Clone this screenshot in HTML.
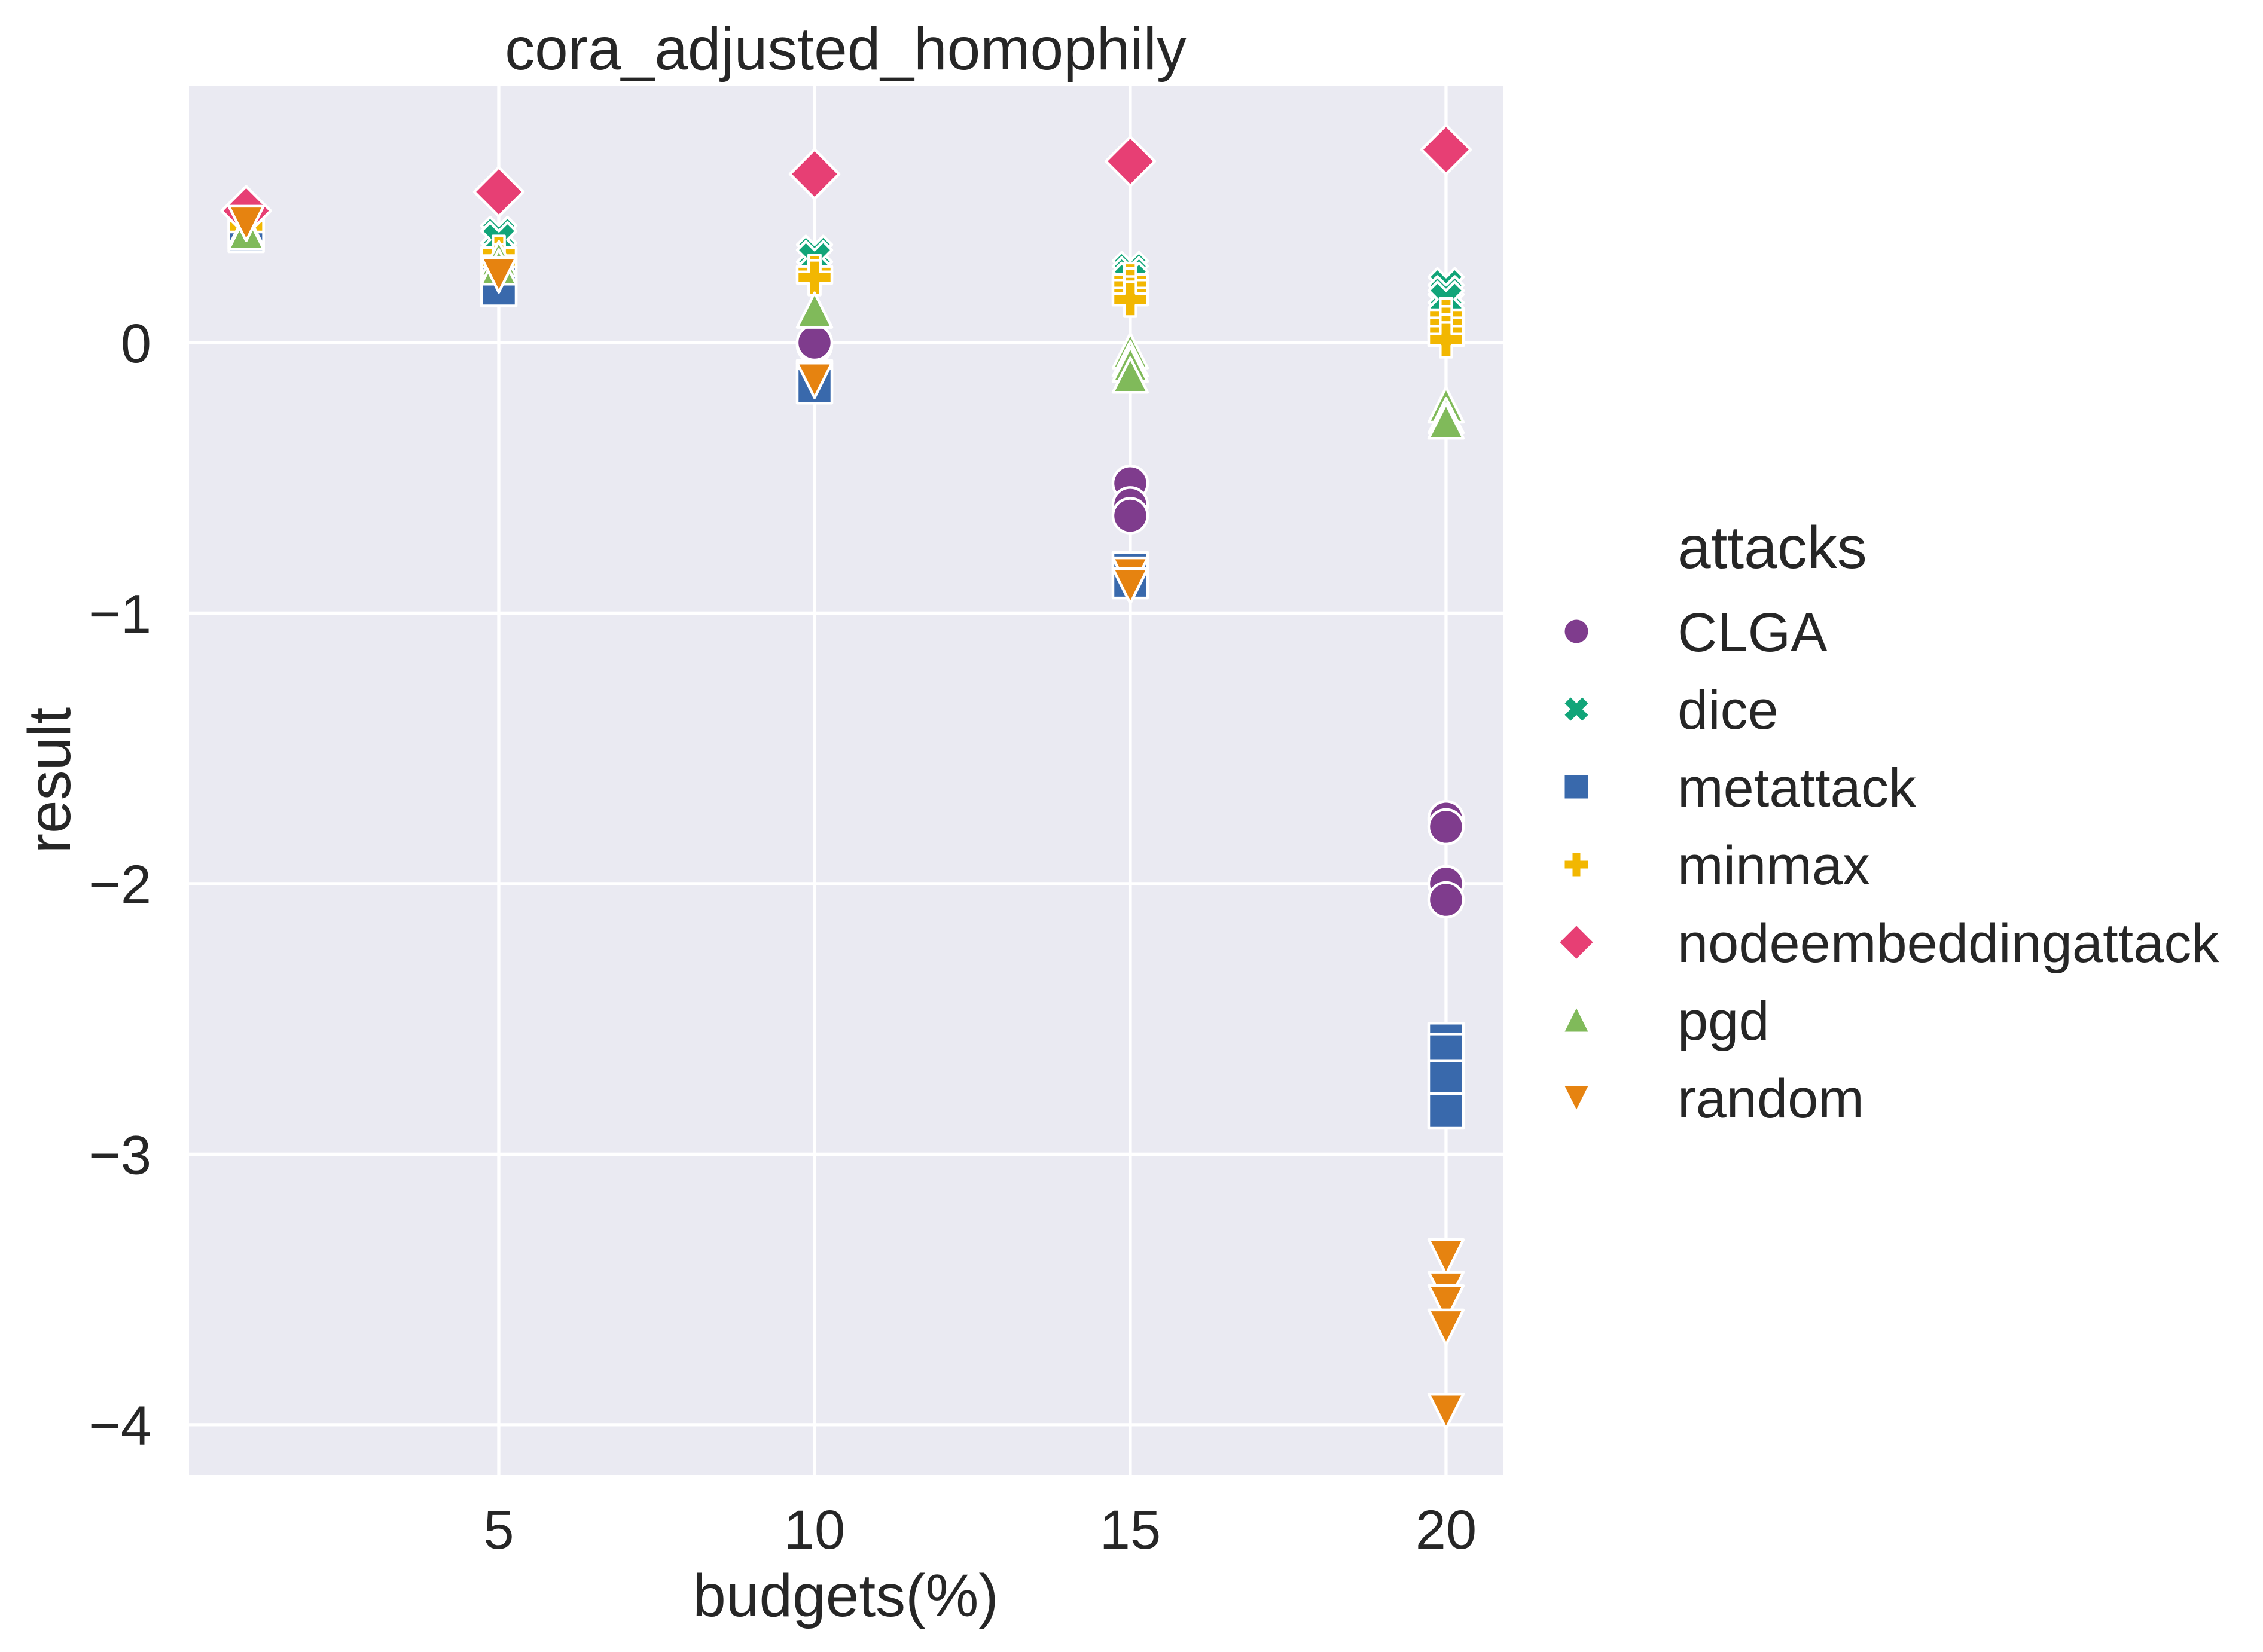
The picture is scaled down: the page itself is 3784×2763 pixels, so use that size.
<!DOCTYPE html>
<html><head><meta charset="utf-8"><style>
html,body{margin:0;padding:0;background:#fff}
svg{display:block}
text{font-family:"Liberation Sans",Arial,sans-serif;fill:#262626}
</style></head><body>
<svg id="chart" width="3784" height="2763" viewBox="0 0 3784 2763" xmlns="http://www.w3.org/2000/svg">
<rect x="316" y="144" width="2197" height="2323" fill="#EAEAF2"/>
<g id="grid"></g>
<g id="marks"></g>
<g id="axes"></g>
<text x="1414" y="116" font-size="100" text-anchor="middle">cora_adjusted_homophily</text>
<text x="1414" y="2703" font-size="100" text-anchor="middle">budgets(%)</text>
<text transform="translate(117,1305) rotate(-90)" font-size="100" text-anchor="middle">result</text>
<g id="legend">
<text x="2805" y="950" font-size="100">attacks</text>
</g>
</svg>
<script>
const attacks = ["CLGA","dice","metattack","minmax","nodeembeddingattack","pgd","random"];
const colors = ["#7F3C8D","#11A579","#3969AC","#F2B701","#E73F74","#80BA5A","#E68310"];
const shapes = ["o","X","s","P","D","^","v"];
const xTicks = [5,10,15,20];
const yTicks = [0,-1,-2,-3,-4];
const yTickLabels = ["0","\u22121","\u22122","\u22123","\u22124"];
const clgaX = [1,5,10,10,15,15,15,20,20,20,20];
const clgaY = [0.43,0.28,-0.01,0.0,-0.52,-0.60,-0.64,-1.76,-1.79,-2.0,-2.06];
const diceX = [1,1,5,5,10,10,15,15,15,20,20,20];
const diceY = [0.42,0.41,0.40,0.38,0.33,0.31,0.27,0.25,0.23,0.21,0.18,0.16];
const metaX = [1,1,5,5,10,10,15,15,20,20,20,20];
const metaY = [0.41,0.40,0.22,0.20,-0.13,-0.16,-0.84,-0.88,-2.58,-2.62,-2.72,-2.84];
const minmaxX = [1,5,5,10,10,15,15,15,15,20,20,20,20];
const minmaxY = [0.43,0.33,0.30,0.26,0.24,0.23,0.21,0.18,0.16,0.10,0.07,0.04,0.01];
const neaX = [1,5,10,15,20];
const neaY = [0.487,0.557,0.623,0.67,0.713];
const pgdX = [1,1,5,5,10,15,15,15,15,20,20,20];
const pgdY = [0.42,0.41,0.31,0.28,0.12,-0.03,-0.06,-0.08,-0.12,-0.23,-0.27,-0.29];
const randX = [1,5,10,15,15,20,20,20,20,20];
const randY = [0.44,0.25,-0.14,-0.86,-0.90,-3.38,-3.50,-3.55,-3.64,-3.95];
const seriesX = [clgaX,diceX,metaX,minmaxX,neaX,pgdX,randX];
const seriesY = [clgaY,diceY,metaY,minmaxY,neaY,pgdY,randY];

const NS="http://www.w3.org/2000/svg";
const L=316,R=2513,T=144,B=2467;
const xMin=0.095,xMax=20.9,yMin=-4.186,yMax=0.948;
function sx(v){return L+(v-xMin)/(xMax-xMin)*(R-L);}
function sy(v){return T+(yMax-v)/(yMax-yMin)*(B-T);}
function mk(tag,attrs,parent){const e=document.createElementNS(NS,tag);for(const k in attrs)e.setAttribute(k,attrs[k]);parent.appendChild(e);return e;}

function markerPath(shape,cx,cy,d){
  const h=d/2;let pts;
  if(shape==="o"){return null;}
  if(shape==="s")pts=[[-h,-h],[h,-h],[h,h],[-h,h]];
  if(shape==="D"){const a=d*0.7071;pts=[[0,-a],[a,0],[0,a],[-a,0]];}
  if(shape==="^")pts=[[0,-h],[h,h],[-h,h]];
  if(shape==="v")pts=[[0,h],[h,-h],[-h,-h]];
  if(shape==="P"){const t=d/6;pts=[[-t,-h],[t,-h],[t,-t],[h,-t],[h,t],[t,t],[t,h],[-t,h],[-t,t],[-h,t],[-h,-t],[-t,-t]];}
  if(shape==="X"){const q=d/4;pts=[[-q,-h],[0,-q],[q,-h],[h,-q],[q,0],[h,q],[q,h],[0,q],[-q,h],[-h,q],[-q,0],[-h,-q]];}
  return "M"+pts.map(p=>(cx+p[0]).toFixed(1)+","+(cy+p[1]).toFixed(1)).join("L")+"Z";
}
function drawMarker(parent,shape,cx,cy,d,color,sw){
  let e;
  if(shape==="o"){e=mk("circle",{cx:cx,cy:cy,r:d/2,fill:color,stroke:"#fff","stroke-width":sw},parent);}
  else{e=mk("path",{d:markerPath(shape,cx,cy,d),fill:color,stroke:"#fff","stroke-width":sw,"stroke-linejoin":"round"},parent);}
  return e;
}

const grid=document.getElementById("grid");
xTicks.forEach(v=>{
  const l=mk("line",{x1:sx(v),x2:sx(v),y1:T,y2:B,stroke:"#fff","stroke-width":5.3},grid);
  
  
});
yTicks.forEach(v=>{
  const l=mk("line",{x1:L,x2:R,y1:sy(v),y2:sy(v),stroke:"#fff","stroke-width":5.3},grid);
  
  
});
const axes=document.getElementById("axes");
xTicks.forEach(v=>{
  const t=mk("text",{x:sx(v),y:2590,"font-size":92,"text-anchor":"middle"},axes);
  t.textContent=String(v);
  
  
});
yTicks.forEach((v,i)=>{
  const t=mk("text",{x:253,y:sy(v)+33,"font-size":92,"text-anchor":"end"},axes);
  t.textContent=yTickLabels[i];
  
  
});
const marks=document.getElementById("marks");
attacks.forEach((a,i)=>{
  const g=mk("g",{},marks);
  
  
  seriesX[i].forEach((xv,j)=>{
    const e=drawMarker(g,shapes[i],sx(xv),sy(seriesY[i][j]),58,colors[i],4.5);
    
    
  });
});
const legend=document.getElementById("legend");
attacks.forEach((a,i)=>{
  const cy=1056+i*130;
  const g=mk("g",{},legend);
  
  
  const m=drawMarker(g,shapes[i],2636,cy,39,colors[i],0);
  
  
  const t=mk("text",{x:2805,y:cy+33,"font-size":92},g);
  t.textContent=a;
  
  
});
</script>
</body></html>
